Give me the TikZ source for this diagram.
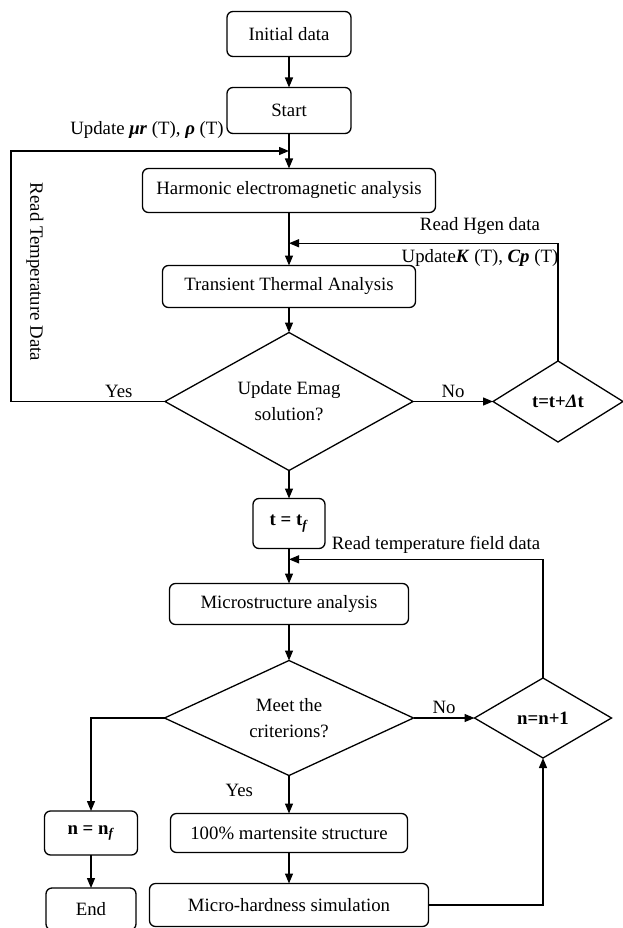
\documentclass[tikz,border=0pt]{standalone}
\usepackage{fontspec}
\setmainfont{Liberation Serif}
\usetikzlibrary{arrows.meta,positioning,shapes.geometric,calc}
\tikzset{
  block/.style={rectangle,rounded corners=6pt,draw,line width=1.3pt,align=center,inner sep=2pt,outer sep=0pt},
  decision/.style={diamond,draw,line width=1.3pt,align=center,inner sep=0pt,outer sep=0pt},
  note/.style={inner sep=1pt}
}

\begin{document}
\begin{tikzpicture}[
    x=1pt,y=-1pt,
    line width=1.3pt,
    font=\fontsize{18.8}{26}\selectfont,
    >={Triangle[length=10pt,width=8pt]}
]
\useasboundingbox (0,0) rectangle (623,928);

% =========================================================
% Coupled electromagnetic / thermal loop
% =========================================================

\node[block,minimum width=124pt,minimum height=45pt] (init) at (289,34) {Initial data};
\node[block,minimum width=124pt,minimum height=46pt,below=31pt of init] (start) {Start};
\node[block,minimum width=293pt,minimum height=44pt,below=35pt of start] (harm) {Harmonic electromagnetic analysis};
\node[block,minimum width=253pt,minimum height=42pt,below=53pt of harm] (trans) {Transient Thermal Analysis};
\node[decision,minimum width=248pt,minimum height=138pt,aspect=1.8,below=25pt of trans] (emag) {Update Emag\\solution?};
\node[decision,minimum width=130pt,minimum height=81pt,aspect=1.6,right=80pt of emag] (dt) {\textbf{t=t+\textit{Δ}t}};

\coordinate (upEM) at ($(start.south)!0.5!(harm.north)$);
\coordinate (upTH) at ($(harm.south)!0.58!(trans.north)$);

\draw[->] (init) -- (start);
\draw[->] (start) -- (harm);
\draw[->] (harm) -- (trans);
\draw[->] (trans) -- (emag);
\draw[->] (emag) -- node[above] {No} (dt);

\draw[->] (emag.west) -- node[above,pos=0.3] {Yes} ++(-154,0) |- (upEM);
\draw[->] (dt.north) |- (upTH);

\node[note] (lblEM) at (147,130) {Update \textbf{\textit{μr}} (T), \textbf{\textit{ρ}} (T)};
\node[note,rotate=-90] (lblRT) at (35,272) {Read Temperature Data};
\node[note] (lblHG) at (480,226) {Read Hgen data};
\node[note] (lblKC) at (480,258) {Update\textbf{\textit{K}} (T), \textbf{\textit{Cp}} (T)};

% =========================================================
% Microstructure loop
% =========================================================

\node[block,minimum width=72pt,minimum height=50pt,below=28pt of emag] (tf) {\textbf{t = t}\textsubscript{\textbf{\textit{f}}}};
\node[block,minimum width=239pt,minimum height=41pt,below=35pt of tf] (micro) {Microstructure analysis};
\node[decision,minimum width=249pt,minimum height=115pt,aspect=2.1,below=36pt of micro] (meet) {Meet the\\criterions?};
\node[decision,minimum width=137pt,minimum height=80pt,aspect=1.7,right=61pt of meet] (nn) {\textbf{n=n+1}};
\node[block,minimum width=237pt,minimum height=39pt,below=38pt of meet] (mart) {100\% martensite structure};
\node[block,minimum width=279pt,minimum height=43pt,below=31pt of mart] (hard) {Micro-hardness simulation};
\node[block,minimum width=93pt,minimum height=44pt,left=33pt of mart] (nf) {\textbf{n = n}\textsubscript{\textbf{\textit{f}}}};
\node[block,minimum width=90pt,minimum height=42pt,below=33pt of nf] (end) {End};

\coordinate (upMS) at ($(tf.south)!0.31!(micro.north)$);

\draw[->] (emag) -- (tf);
\draw[->] (tf) -- (micro);
\draw[->] (micro) -- (meet);
\draw[->] (meet) -- node[above] {No} (nn);
\draw[->] (meet) -- node[pos=0.4,left=32pt] {Yes} (mart);
\draw[->] (mart) -- (hard);
\draw[->] (meet.west) -| (nf.north);
\draw[->] (nf) -- (end);
\draw[->] (hard.east) -| (nn.south);
\draw[->] (nn.north) |- (upMS);

\node[note] (lblTF) at (436,545) {Read temperature field data};

\end{tikzpicture}
\end{document}
